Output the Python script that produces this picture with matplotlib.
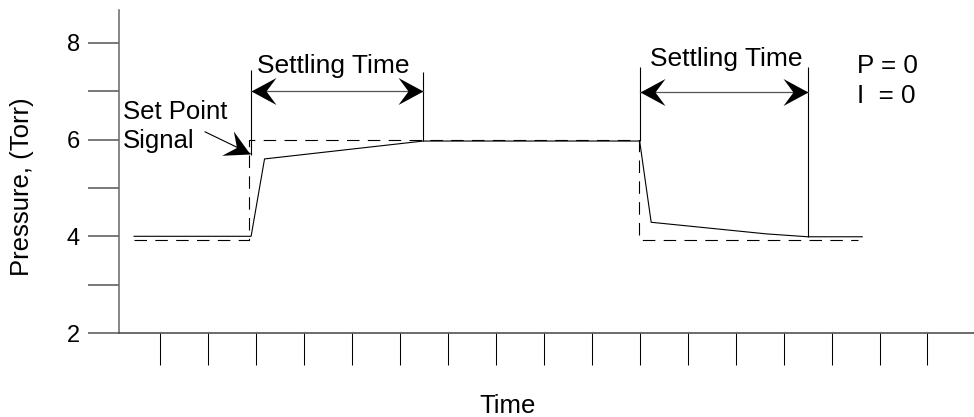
import numpy as np
import matplotlib
matplotlib.use('Agg')
import matplotlib.pyplot as plt
from matplotlib.path import Path
from matplotlib.transforms import Affine2D

plt.rcParams['font.family'] = ['Liberation Sans', 'DejaVu Sans']
plt.rcParams['lines.scale_dashes'] = False

# time is in tick units (one tick = 1), pressure in Torr
t_setpoint = [0.46, 2.86, 2.86, 10.98, 10.98, 15.55]
p_setpoint = [3.93, 3.93, 6.0, 6.0, 3.93, 3.93]

t_response = [0.46, 2.90, 3.18, 6.49, 11.0, 11.24, 13.64, 14.51, 15.64]
p_response = [4.0, 4.0, 5.6, 5.97, 5.97, 4.29, 4.05, 3.99, 3.99]

# settling time markers (vertical lines) and the double arrows between them
marker_t = [2.90, 6.49, 11.0, 14.51]
marker_bottom = [5.68, 5.97, 5.97, 3.99]
marker_top = [7.44, 7.40, 7.50, 7.50]
settle_start = [2.90, 11.0]
settle_end = [6.49, 14.51]
settle_p = [7.0, 6.99]
settle_label_t = [3.02, 11.22]
settle_label_p = [7.38, 7.52]

# "Set Point Signal" pointer
pointer_from = (1.94, 6.16)
pointer_to = (2.88, 5.71)

y_ticks = [2, 3, 4, 5, 6, 7, 8]
y_labels = ['2', '', '4', '', '6', '', '8']
x_ticks = list(range(1, 18))


def head(angle, length_pt=18):
  """stealth arrow head as a marker, tip on the point"""
  verts = [(0, 0), (-1, 0.54), (-0.6, 0), (-1, -0.54), (0, 0)]
  codes = [Path.MOVETO, Path.LINETO, Path.LINETO, Path.LINETO, Path.CLOSEPOLY]
  path = Path(verts, codes).transformed(Affine2D().rotate_deg(angle))
  r = np.max(np.abs(path.vertices))
  return path, 2 * r * length_pt


fig = plt.figure(figsize=(9.74, 4.17), dpi=100)
ax = fig.add_axes([119/974, 84/417, 855/974, 323/417])
ax.set_xlim(0.146, 17.97)
ax.set_ylim(2, 8.68)

ax.plot(t_setpoint, p_setpoint, color='black', lw=0.8, dashes=(9, 6))
ax.plot(t_response, p_response, color='black', lw=0.8)

ax.vlines(marker_t, marker_bottom, marker_top, color='black', lw=0.8)

for a, b, p in zip(settle_start, settle_end, settle_p):
  ax.plot([a, b], [p, p], color='#555555', lw=0.9)
  m, ms = head(180)
  ax.plot(a, p, marker=m, markersize=ms, color='black', markeredgewidth=0)
  m, ms = head(0)
  ax.plot(b, p, marker=m, markersize=ms, color='black', markeredgewidth=0)

for tx, py in zip(settle_label_t, settle_label_p):
  ax.text(tx, py, 'Settling Time', fontsize=19, ha='left', va='baseline')

# pointer arrow, angle taken in screen space
ax.plot([pointer_from[0], pointer_to[0]], [pointer_from[1], pointer_to[1]], color='black', lw=0.8)
d0 = ax.transData.transform(pointer_from)
d1 = ax.transData.transform(pointer_to)
ang = np.degrees(np.arctan2(d1[1] - d0[1], d1[0] - d0[0]))
m, ms = head(ang)
ax.plot(pointer_to[0], pointer_to[1], marker=m, markersize=ms, color='black', markeredgewidth=0)

ax.text(0.23, 6.43, 'Set Point', fontsize=18.5, va='baseline')
ax.text(0.23, 5.83, 'Signal', fontsize=18.5, va='baseline')
ax.text(15.53, 7.38, 'P = 0', fontsize=18.7, va='baseline')
ax.text(15.53, 6.76, 'I  = 0', fontsize=18.7, va='baseline')

# axes look
for s in ['top', 'right']:
  ax.spines[s].set_visible(False)
ax.spines['left'].set_color('#666666')
ax.spines['left'].set_linewidth(1.1)
ax.spines['bottom'].set_color('#444444')
ax.spines['bottom'].set_linewidth(1.1)

ax.set_xticks(x_ticks)
ax.set_xticklabels([])
ax.tick_params(axis='x', length=23, width=0.75, color='black', direction='out')
ax.set_yticks(y_ticks)
ax.set_yticklabels(y_labels)
ax.tick_params(axis='y', length=22.3, width=1.1, color='#555555', pad=5.8, labelsize=17)

fig.text(22/974, 1 - 187/417, 'Pressure, (Torr)', rotation=90, fontsize=18.5, ha='center', va='center')
fig.text(508/974, 4/417, 'Time', fontsize=18.5, ha='center', va='baseline')

fig.savefig('out.png', dpi=100)
